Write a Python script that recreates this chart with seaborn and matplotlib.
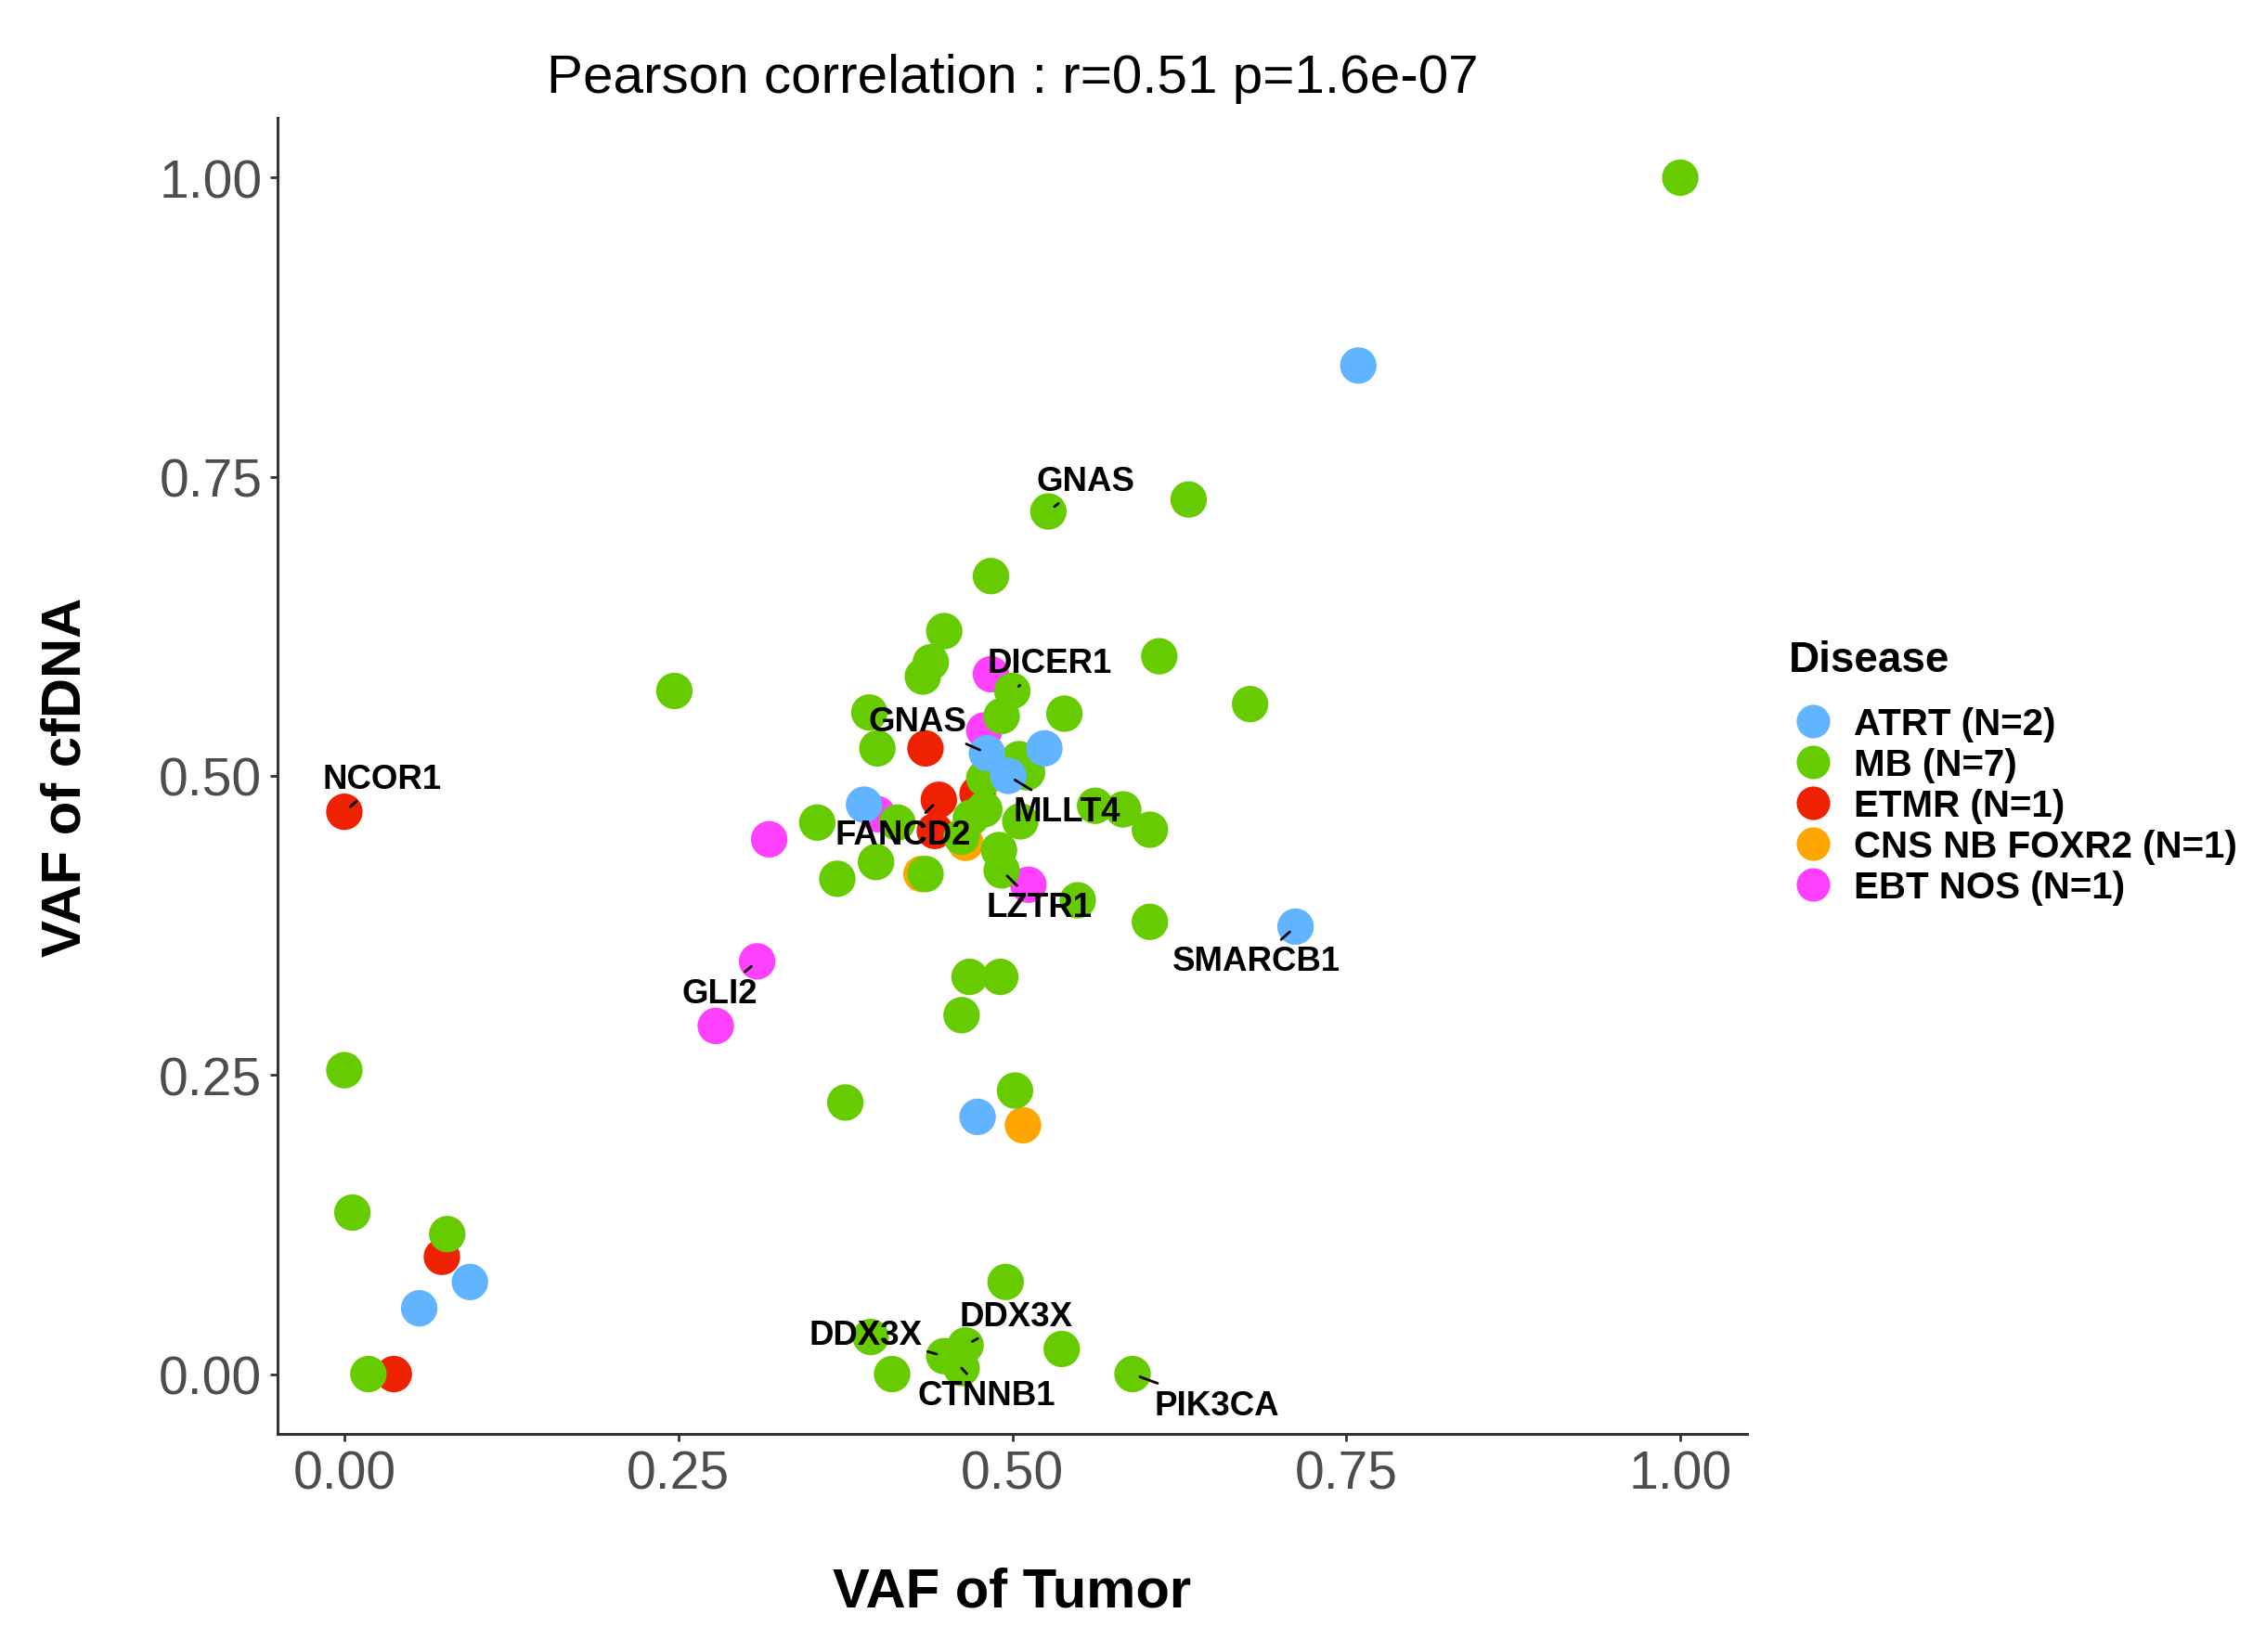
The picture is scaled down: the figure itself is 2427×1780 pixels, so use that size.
import matplotlib
matplotlib.use("Agg")
import matplotlib.pyplot as plt
from matplotlib.lines import Line2D
import seaborn as sns
import pandas as pd

# ---------------- data ----------------
atrt_x = [0.759, 0.712, 0.474, 0.094, 0.056, 0.389, 0.481, 0.524, 0.497]
atrt_y = [0.843, 0.374, 0.215, 0.077, 0.055, 0.476, 0.519, 0.523, 0.500]

mb_x = [1.000, 0.632, 0.527, 0.484, 0.449, 0.439, 0.433, 0.610, 0.678, 0.247,
        0.500, 0.393, 0.492, 0.539, 0.399, 0.505, 0.511, 0.479, 0.354, 0.414,
        0.469, 0.479, 0.506, 0.562, 0.583, 0.603, 0.462, 0.490, 0.398, 0.369,
        0.435, 0.492, 0.549, 0.603, 0.468, 0.491, 0.462, 0.375, 0.502, 0.000,
        0.006, 0.077, 0.018, 0.495, 0.394, 0.410, 0.449, 0.465, 0.462, 0.537,
        0.590]
mb_y = [1.000, 0.731, 0.721, 0.667, 0.621, 0.595, 0.583, 0.600, 0.560, 0.571,
        0.571, 0.553, 0.550, 0.552, 0.523, 0.514, 0.503, 0.498, 0.461, 0.461,
        0.465, 0.472, 0.462, 0.475, 0.472, 0.455, 0.449, 0.438, 0.428, 0.414,
        0.418, 0.421, 0.396, 0.378, 0.332, 0.332, 0.300, 0.227, 0.237, 0.254,
        0.135, 0.117, 0.000, 0.077, 0.031, 0.000, 0.015, 0.024, 0.005, 0.021,
        0.000]

etmr_x = [0.000, 0.073, 0.037, 0.435, 0.445, 0.474, 0.442]
etmr_y = [0.470, 0.098, 0.000, 0.523, 0.480, 0.485, 0.454]

cns_x = [0.508, 0.465, 0.432]
cns_y = [0.208, 0.444, 0.418]

ebt_x = [0.484, 0.479, 0.399, 0.318, 0.512, 0.309, 0.278]
ebt_y = [0.585, 0.538, 0.468, 0.447, 0.409, 0.345, 0.291]

diseases = ["ATRT", "MB", "ETMR", "CNS NB FOXR2", "EBT NOS"]
legend_labels = ["ATRT (N=2)", "MB (N=7)", "ETMR (N=1)",
                 "CNS NB FOXR2 (N=1)", "EBT NOS (N=1)"]
colors = ["#61B4FF", "#66CC00", "#EE2200", "#FFA500", "#FF40FF"]

# gene labels: (text, disease, index of point in that disease)
gene_labels = ["GNAS", "DICER1", "GNAS", "MLLT4", "FANCD2", "LZTR1", "NCOR1",
               "SMARCB1", "GLI2", "DDX3X", "DDX3X", "CTNNB1", "PIK3CA"]
gene_disease = ["MB", "MB", "ATRT", "ATRT", "ETMR", "MB", "ETMR",
                "ATRT", "EBT NOS", "MB", "MB", "MB", "MB"]
gene_index = [2, 10, 6, 8, 4, 31, 0, 1, 5, 46, 47, 48, 50]
# label text positions (data coords)
label_x = [0.555, 0.528, 0.429, 0.541, 0.418, 0.520, 0.028, 0.683, 0.281,
           0.390, 0.503, 0.481, 0.653]
label_y = [0.746, 0.594, 0.545, 0.470, 0.451, 0.390, 0.497, 0.345, 0.318,
           0.033, 0.048, -0.018, -0.026]

title = "Pearson correlation : r=0.51 p=1.6e-07"
xlabel = "VAF of Tumor"
ylabel = "VAF of cfDNA"
ticks = [0.0, 0.25, 0.5, 0.75, 1.0]
tick_labels = ["0.00", "0.25", "0.50", "0.75", "1.00"]

# ---------------- build frame ----------------
series = {
    "ATRT": (atrt_x, atrt_y),
    "MB": (mb_x, mb_y),
    "ETMR": (etmr_x, etmr_y),
    "CNS NB FOXR2": (cns_x, cns_y),
    "EBT NOS": (ebt_x, ebt_y),
}
draw_order = ["CNS NB FOXR2", "ETMR", "EBT NOS", "MB", "ATRT"]
frames = []
for d in draw_order:
    xs, ys = series[d]
    frames.append(pd.DataFrame({"tumor": xs, "cfdna": ys, "Disease": d}))
df = pd.concat(frames, ignore_index=True)

# ---------------- style ----------------
sns.set_theme(style="white")
plt.rcParams["font.family"] = ["Liberation Sans", "DejaVu Sans"]
plt.rcParams["text.color"] = "black"
plt.rcParams["axes.labelcolor"] = "black"

W, H, DPI = 2427, 1781, 200
fig = plt.figure(figsize=(W / DPI, H / DPI), dpi=DPI)
ax = fig.add_axes([299 / W, 1 - 1546 / H, (1882 - 299) / W, (1546 - 128) / H])

palette = dict(zip(diseases, colors))
sns.scatterplot(data=df, x="tumor", y="cfdna", hue="Disease", hue_order=diseases,
                palette=palette, s=200, linewidth=0, legend=False, ax=ax, zorder=2)

# gene labels with segments
for txt, d, i, lx, ly in zip(gene_labels, gene_disease, gene_index, label_x, label_y):
    px, py = series[d][0][i], series[d][1][i]
    ax.annotate(txt, xy=(px, py), xytext=(lx, ly), ha="center", va="center",
                fontsize=13.2, fontweight="bold", color="black", zorder=5,
                arrowprops=dict(arrowstyle="-", color="black", lw=1.0,
                                shrinkA=0, shrinkB=3))

ax.set_xlim(-0.05, 1.05)
ax.set_ylim(-0.05, 1.05)
ax.set_xticks(ticks)
ax.set_xticklabels(tick_labels)
ax.set_yticks(ticks)
ax.set_yticklabels(tick_labels)
ax.tick_params(axis="both", which="both", labelsize=20.5, labelcolor="#4D4D4D",
               color="#333333", length=3, width=1.0, pad=3,
               bottom=True, left=True)
for side in ["top", "right"]:
    ax.spines[side].set_visible(False)
for side in ["left", "bottom"]:
    ax.spines[side].set_color("#333333")
    ax.spines[side].set_linewidth(1.1)

ax.set_xlabel(xlabel, fontsize=21.5, fontweight="bold", labelpad=26, color="black")
ax.set_ylabel(ylabel, fontsize=21.5, fontweight="bold", labelpad=26, color="black")
ax.set_title(title, fontsize=21, pad=10, color="black")

handles = [Line2D([0], [0], marker="o", linestyle="", markersize=13,
                  markerfacecolor=c, markeredgewidth=0) for c in colors]
leg = ax.legend(handles, legend_labels, title="Disease", loc="upper left",
                bbox_to_anchor=(1927 / W, 1 - 690 / H), bbox_transform=fig.transFigure,
                frameon=False, prop={"size": 14.5, "weight": "bold"},
                title_fontproperties={"size": 16.5, "weight": "bold"},
                alignment="left", borderpad=0, borderaxespad=0,
                handlelength=1.29, handletextpad=0.45, labelspacing=0.15,
                labelcolor="black")
leg.get_title().set_color("black")
# extra gap between legend title and entries
leg._legend_box.sep = 10

fig.savefig("out.png", dpi=DPI)
